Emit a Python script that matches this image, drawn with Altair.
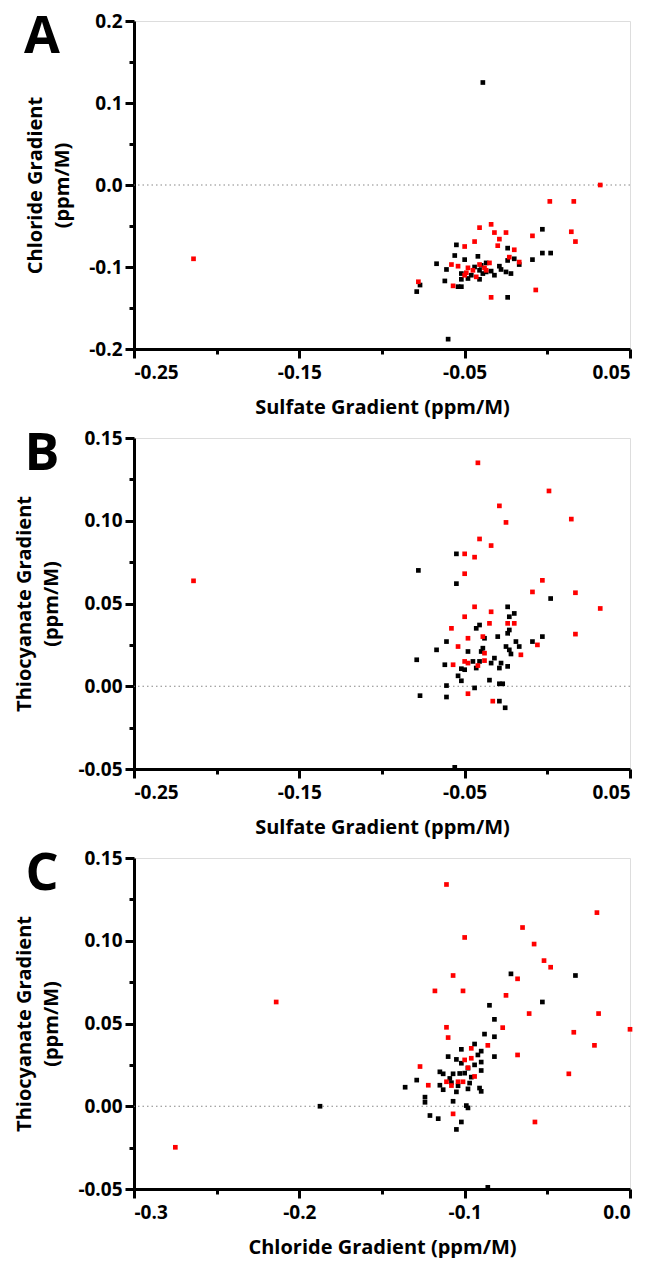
import altair as alt
import pandas as pd

# ---------------- Panel A: Sulfate (x) vs Chloride (y) ----------------
a_black_x = [-0.003, -0.003, 0.002, -0.009, -0.055, -0.056, -0.050, -0.042, -0.067, -0.061,
             -0.052, -0.052, -0.048, -0.062, -0.054, -0.052, -0.077, -0.079, -0.044, -0.040,
             -0.041, -0.039, -0.041, -0.034, -0.032, -0.029, -0.028, -0.025, -0.022, -0.024,
             -0.024, -0.020, -0.017, -0.037, -0.024, -0.060, -0.046, -0.037, -0.039]
a_black_y = [-0.054, -0.083, -0.083, -0.091, -0.073, -0.086, -0.091, -0.087, -0.096, -0.103,
             -0.108, -0.115, -0.114, -0.117, -0.124, -0.124, -0.122, -0.130, -0.100, -0.098,
             -0.104, -0.108, -0.115, -0.105, -0.110, -0.099, -0.103, -0.106, -0.108, -0.077,
             -0.092, -0.090, -0.097, -0.095, -0.137, -0.188, -0.110, -0.106, 0.125]
a_red_x = [-0.041, -0.034, -0.032, -0.025, -0.029, -0.030, -0.044, -0.050, -0.009, 0.0145,
           0.017, -0.020, -0.023, -0.017, -0.058, -0.054, -0.048, -0.041, -0.035, -0.038,
           -0.049, -0.050, -0.043, -0.078, -0.057, -0.007, -0.034, -0.045, -0.037, 0.032,
           -0.214, 0.0015, 0.016]
a_red_y = [-0.052, -0.048, -0.058, -0.058, -0.066, -0.074, -0.069, -0.075, -0.062, -0.057,
           -0.069, -0.079, -0.088, -0.094, -0.097, -0.099, -0.101, -0.097, -0.095, -0.101,
           -0.107, -0.110, -0.112, -0.118, -0.123, -0.128, -0.137, -0.104, -0.104, 0.0,
           -0.090, -0.020, -0.020]

# ---------------- Panel B: Sulfate (x) vs Thiocyanate (y) ----------------
b_black_x = [-0.055, -0.078, -0.055, 0.002, -0.024, -0.020, -0.023, -0.041, -0.043, -0.023,
             -0.024, -0.030, -0.038, -0.003, -0.009, -0.019, -0.017, -0.061, -0.067, -0.039,
             -0.040, -0.048, -0.025, -0.023, -0.022, -0.032, -0.079, -0.045, -0.041, -0.034,
             -0.028, -0.062, -0.043, -0.029, -0.024, -0.052, -0.050, -0.054, -0.052, -0.035,
             -0.029, -0.027, -0.061, -0.044, -0.077, -0.061, -0.029, -0.0255, -0.056]
b_black_y = [0.080, 0.070, 0.062, 0.053, 0.048, 0.044, 0.042, 0.037, 0.035, 0.034,
             0.032, 0.030, 0.029, 0.030, 0.027, 0.027, 0.024, 0.027, 0.022, 0.023,
             0.021, 0.021, 0.024, 0.022, 0.0195, 0.017, 0.016, 0.015, 0.015, 0.014,
             0.014, 0.013, 0.011, 0.011, 0.012, 0.0106, 0.010, 0.0063, 0.0033, 0.0037,
             0.0015, 0.0015, 0.0004, -0.001, -0.0057, -0.0065, -0.009, -0.013, -0.049]
b_red_x = [-0.042, 0.001, -0.029, -0.025, 0.0145, -0.041, -0.034, -0.050, -0.044, -0.050,
           -0.003, -0.009, 0.017, -0.044, -0.034, -0.050, -0.035, -0.024, -0.020, -0.058,
           -0.039, -0.048, -0.006, -0.054, -0.038, -0.016, -0.050, -0.048, -0.038, -0.057,
           -0.042, -0.048, -0.033, 0.032, 0.017, -0.214]
b_red_y = [0.135, 0.118, 0.109, 0.099, 0.101, 0.089, 0.085, 0.080, 0.078, 0.068,
           0.064, 0.057, 0.0565, 0.048, 0.045, 0.042, 0.038, 0.038, 0.038, 0.035,
           0.030, 0.029, 0.025, 0.024, 0.020, 0.019, 0.015, 0.014, 0.0155, 0.013,
           0.0125, -0.0045, -0.009, 0.047, 0.0315, 0.0637]

# ---------------- Panel C: Chloride (x) vs Thiocyanate (y) ----------------
c_black_x = [-0.072, -0.033, -0.053, -0.085, -0.082, -0.088, -0.082, -0.094, -0.102, -0.090,
             -0.092, -0.110, -0.082, -0.105, -0.102, -0.090, -0.094, -0.098, -0.090, -0.115,
             -0.113, -0.107, -0.103, -0.100, -0.096, -0.109, -0.129, -0.108, -0.104, -0.097,
             -0.115, -0.136, -0.113, -0.105, -0.098, -0.091, -0.090, -0.124, -0.124, -0.107,
             -0.099, -0.098, -0.121, -0.116, -0.102, -0.105, -0.1875, -0.086]
c_black_y = [0.080, 0.079, 0.063, 0.061, 0.0525, 0.0436, 0.042, 0.0376, 0.0344, 0.0333,
             0.031, 0.030, 0.030, 0.0283, 0.026, 0.0267, 0.025, 0.023, 0.0216, 0.0208,
             0.0196, 0.0196, 0.0198, 0.020, 0.0176, 0.0168, 0.0158, 0.0142, 0.0124, 0.014,
             0.0127, 0.0115, 0.010, 0.0087, 0.0105, 0.011, 0.009, 0.0055, 0.0024, 0.003,
             0.0004, -0.001, -0.0056, -0.0075, -0.0095, -0.014, 0.0, -0.049]
c_red_x = [-0.020, -0.065, -0.058, -0.052, -0.048, -0.068, -0.075, -0.061, -0.019, -0.077,
           0.000, -0.034, -0.111, -0.100, -0.107, -0.118, -0.101, -0.111, -0.110, -0.214,
           -0.086, -0.096, -0.068, -0.100, -0.096, -0.127, -0.098, -0.094, -0.111, -0.104,
           -0.101, -0.108, -0.122, -0.107, -0.0575, -0.037, -0.0215, -0.275]
c_red_y = [0.117, 0.108, 0.098, 0.088, 0.084, 0.077, 0.067, 0.056, 0.056, 0.0475,
           0.0465, 0.0447, 0.134, 0.102, 0.079, 0.0697, 0.0697, 0.0477, 0.0415, 0.063,
           0.0368, 0.035, 0.031, 0.028, 0.029, 0.024, 0.0233, 0.018, 0.0148, 0.0148,
           0.0148, 0.0125, 0.0127, -0.0046, -0.0095, 0.0196, 0.0368, -0.0248]

# axis tick values (major + minor)
ab_x_ticks = [-0.25, -0.2, -0.15, -0.1, -0.05, 0.0, 0.05]
a_y_ticks = [-0.2, -0.15, -0.1, -0.05, 0.0, 0.05, 0.1, 0.15, 0.2]
bc_y_ticks = [-0.05, -0.025, 0.0, 0.025, 0.05, 0.075, 0.1, 0.125, 0.15]
c_x_ticks = [-0.3, -0.25, -0.2, -0.15, -0.1, -0.05, 0.0]

FONT = "Open Sans"
W = 496


def make_axis(values, fmt, major_test, title, is_y):
    return alt.Axis(
        values=values,
        labelExpr=f"({major_test}) ? replace(format(datum.value, '{fmt}'), '\u2212', '-') : ''",
        tickSize={"condition": {"test": major_test, "value": 9}, "value": 5},
        tickWidth=3,
        tickColor="black",
        domainWidth=3,
        domainColor="black",
        grid=False,
        labelOverlap=False,
        labelFont=FONT,
        labelFontSize=19,
        labelFontWeight="bold",
        labelColor="black",
        labelPadding=3 if is_y else 5,
        title=title,
        titleFont=FONT,
        titleFontSize=20,
        titleFontWeight="bold",
        titleColor="black",
        titlePadding=16 if is_y else 15,
        titleLineHeight=27,
    )


def panel(bx, by, rx, ry, xdom, ydom, xaxis, yaxis, letter, h):
    df = pd.concat([
        pd.DataFrame({"x": bx, "y": by, "g": "black"}),
        pd.DataFrame({"x": rx, "y": ry, "g": "red"}),
    ], ignore_index=True)
    xs = alt.Scale(domain=xdom, nice=False, zero=False)
    ys = alt.Scale(domain=ydom, nice=False, zero=False)
    pts = alt.Chart(df).mark_square(size=22, opacity=1).encode(
        x=alt.X("x:Q", scale=xs, axis=xaxis),
        y=alt.Y("y:Q", scale=ys, axis=yaxis),
        color=alt.Color("g:N", scale=alt.Scale(domain=["black", "red"], range=["#000000", "#ff0000"]), legend=None),
    )
    zero = alt.Chart(pd.DataFrame({"y": [0.0]})).mark_rule(
        color="#888888", strokeDash=[1.5, 3], strokeWidth=1.2
    ).encode(y=alt.Y("y:Q", scale=ys, axis=yaxis))
    lab = alt.Chart(pd.DataFrame({"t": [letter]})).mark_text(
        font=FONT, fontSize=52, fontWeight="bold", align="center", baseline="alphabetic", color="black"
    ).encode(text="t:N", x=alt.value(-92), y=alt.value(32))
    return alt.layer(zero, pts, lab).properties(width=W, height=h)


xmaj_ab = "abs(round(datum.value*100)) % 10 == 5"
ymaj_a = "abs(round(datum.value*100)) % 10 == 0"
ymaj_bc = "abs(round(datum.value*1000)) % 50 == 0"
xmaj_c = "abs(round(datum.value*100)) % 10 == 0"

pA = panel(a_black_x, a_black_y, a_red_x, a_red_y, [-0.25, 0.05], [-0.2, 0.2],
           make_axis(ab_x_ticks, ".2f", xmaj_ab, "Sulfate Gradient (ppm/M)", False),
           make_axis(a_y_ticks, ".1f", ymaj_a, ["Chloride Gradient", "(ppm/M)"], True), "A", 328)
pB = panel(b_black_x, b_black_y, b_red_x, b_red_y, [-0.25, 0.05], [-0.05, 0.15],
           make_axis(ab_x_ticks, ".2f", xmaj_ab, "Sulfate Gradient (ppm/M)", False),
           make_axis(bc_y_ticks, ".2f", ymaj_bc, ["Thiocyanate Gradient", "(ppm/M)"], True), "B", 331)
pC = panel(c_black_x, c_black_y, c_red_x, c_red_y, [-0.3, 0.0], [-0.05, 0.15],
           make_axis(c_x_ticks, ".1f", xmaj_c, "Chloride Gradient (ppm/M)", False),
           make_axis(bc_y_ticks, ".2f", ymaj_bc, ["Thiocyanate Gradient", "(ppm/M)"], True), "C", 331)

chart = alt.vconcat(pA, pB, pC, spacing=9).properties(
    padding={"left": 6, "top": 2, "right": 0, "bottom": 0}
).configure_view(strokeWidth=0).configure(background="white")

chart.save("out.html", embed_options={"renderer": "svg", "actions": False})
